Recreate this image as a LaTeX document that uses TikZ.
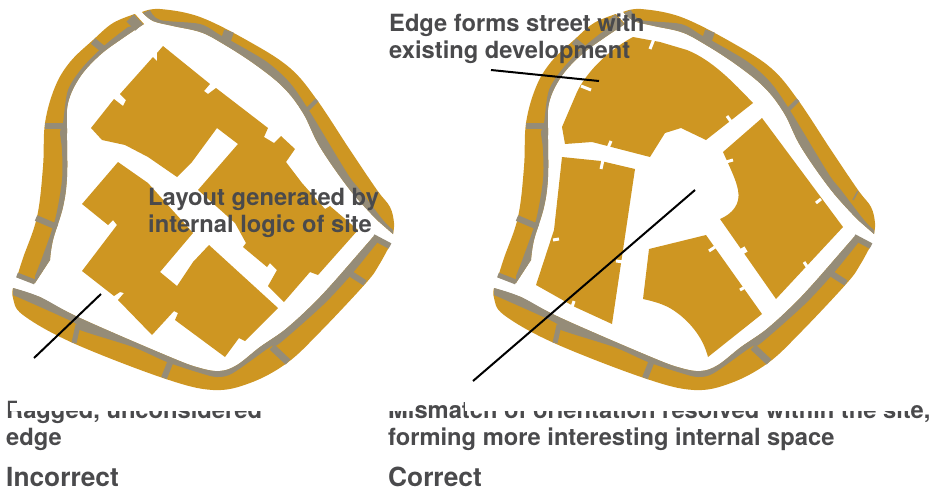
\documentclass[tikz,border=0pt]{standalone}
\usepackage{fontspec}
\setmainfont{TeX Gyre Heros}
\usetikzlibrary{positioning}
\definecolor{plotgold}{HTML}{CE9622}
\definecolor{kerbgrey}{HTML}{958C78}
\definecolor{textgrey}{HTML}{4A4A4C}

\begin{document}
\begin{tikzpicture}[
  x=1pt,
  y=-1pt,
  land/.style={fill=plotgold},
  band/.style={fill=kerbgrey},
  rib/.style={draw=kerbgrey, line width=6pt},
  nick/.style={draw=white, line width=3pt},
  leader/.style={draw=black, line width=2pt},
  note/.style={
    anchor=base west,
    inner sep=0pt,
    align=left,
    text=textgrey,
    font=\fontsize{23.7}{27}\selectfont\bfseries
  },
  heading/.style={
    note,
    font=\fontsize{26.3}{30}\selectfont\bfseries
  },
  cover/.style={fill=white},
  sitering/.pic={
    % outer gold strips
    \fill[land] plot[smooth, tension=0.6] coordinates {(142,12) (160,9) (200,17) (250,42) (290,68) (317,100) (350,150) (377,190) (390,207) (394,223) (393,234)}
      -- plot[smooth, tension=0.6] coordinates {(377,220) (350,190) (320,147) (303,113) (283,87) (253,63) (220,42) (200,32) (173,26) (153,21) (143,13)} -- cycle;
    \fill[land] plot[smooth, tension=0.6] coordinates {(135,14) (113,23) (93,40) (70,62) (55,87) (45,123) (43,167) (37,217) (23,258) (17,277)}
      -- (35,283) -- plot[smooth, tension=0.6] coordinates {(50,260) (53,240) (63,207) (67,177) (67,133) (68,103) (80,77) (100,55) (123,38) (144,24)} -- cycle;
    \fill[land] plot[smooth, tension=0.6] coordinates {(13,288) (13,298) (23,315) (73,343) (163,378) (213,390) (250,383) (287,363) (320,332) (366,283) (379,265) (390,245)}
      -- (373,237) -- plot[smooth, tension=0.6] coordinates {(353,260) (320,297) (287,328) (260,347) (237,365) (220,371) (200,368) (170,357) (80,318) (40,297)} -- cycle;
    % grey kerbs
    \fill[band] plot[smooth, tension=0.5] coordinates {(150,10) (160,20) (200,24) (220,35) (235,43) (267,62) (290,83) (310,112) (347,173) (360,190) (383,220) (393,230)}
      -- (393,234) -- plot[smooth, tension=0.6] coordinates {(377,220) (350,190) (320,147) (303,113) (283,87) (253,63) (220,42) (200,32) (173,26) (153,21) (143,13)} -- cycle;
    \fill[band] plot[smooth, tension=0.5] coordinates {(128,27) (105,45) (83,67) (68,90) (63,123) (60,132) (62,150) (62,180) (55,220) (42,258) (35,276)}
      -- (35,283) -- plot[smooth, tension=0.6] coordinates {(50,260) (53,240) (63,207) (67,177) (67,133) (68,103) (80,77) (100,55) (123,38) (144,24)} -- cycle;
    \fill[band] plot[smooth, tension=0.5] coordinates {(13,295) (73,322) (80,330) (133,347) (167,362) (200,373) (217,377) (233,373) (270,347) (280,343) (323,305) (351,275) (377,243)}
      -- (373,237) -- plot[smooth, tension=0.6] coordinates {(353,260) (320,297) (287,328) (260,347) (237,365) (220,371) (200,368) (170,357) (80,318) (40,297) (13,288)} -- cycle;
    % cross ribs
    \draw[rib, line width=10pt] (229,31) -- (225,43);
    \draw[rib, line width=4pt] (317,100) -- (305,112);
    \draw[rib, line width=1.5pt] (377,191) -- (372,200);
    \draw[rib, line width=10pt] (130,18) -- (139,27);
    \draw[rib, line width=7pt] (93,41) -- (103,49);
    \draw[rib] (45,126) -- (64,126);
    \draw[rib] (36,218) -- (57,227);
    \draw[rib, line width=5pt] (17,275) -- (35,282);
    \draw[rib, line width=5pt] (78,325) -- (74,343);
    \draw[rib] (170,363) -- (164,378);
    \draw[rib, line width=7pt] (272,347) -- (288,362);
    \draw[rib] (351,274) -- (365,283);
    \draw[rib] (373,237) -- (390,246);
  }
]

\useasboundingbox (0,0) rectangle (933,491);

% ------------------------------------------------------------
% Site edges
% ------------------------------------------------------------

\pic at (0,0) {sitering};
\pic at (481,0) {sitering};

% ------------------------------------------------------------
% Left layout
% ------------------------------------------------------------

\fill[land] (163,46) -- (210,84) -- (204,91) -- (208,94) -- (216,88) -- (268,128) -- (264,137) -- (274,143) -- (281,136) -- (295,149)
  -- (286,162) -- (302,183) -- (325,209) -- (330,206) -- (358,230) -- (318,275) -- (310,272) -- (284,302) -- (268,286) -- (277,270)
  -- (270,263) -- (267,267) -- (243,247) -- (246,243) -- (235,223) -- (198,190) -- (238,144) -- (217,128) -- (192,162) -- (177,177)
  -- (148,157) -- (125,145) -- (102,140) -- (91,128) -- (114,99) -- (123,106) -- (126,100) -- (120,94) -- (153,57) -- (157,61) -- (157,53) -- cycle;

\fill[land] (118,162) -- (148,183) -- (193,233) -- (160,272) -- (177,286) -- (193,262) -- (209,245) -- (278,308) -- (245,341) -- (239,338)
  -- (225,357) -- (175,320) -- (178,313) -- (174,311) -- (152,335) -- (118,300) -- (124,293) -- (120,292) -- (114,296) -- (82,271)
  -- (117,225) -- (113,220) -- (108,225) -- (82,204) -- cycle;

% ------------------------------------------------------------
% Right layout
% ------------------------------------------------------------

\fill[land] (633,37) -- (660,42) -- (687,50) .. controls (712,60) and (733,82) .. (753,103) -- (706,140) -- (681,128) -- (665,133) -- (650,157) -- (592,142) -- (565,144)
  -- (562,127) -- (577,92) .. controls (585,75) and (605,52) .. (633,37) -- cycle;
\fill[land] (562,157) -- (601,161) -- (635,169) -- (612,324) -- (575,307) -- (536,285) -- (554,230) -- cycle;
\fill[land] (649,249) -- (706,235) -- (762,314) -- (708,357) .. controls (703,338) and (692,325) .. (680,315) .. controls (672,309) and (666,304) .. (643,299) -- cycle;
\fill[land] (723,152) -- (762,118) -- (843,227) -- (776,299) -- (720,219) .. controls (732,214) and (741,204) .. (738,190) .. controls (736,180) and (732,172) .. (723,152) -- cycle;

\foreach \xa/\ya/\xb/\yb in {
  650/49/654/39, 581/86/591/90, 727/116/732/123, 611/141/608/148,
  601/169/603/160, 553/240/559/239, 616/261/624/262, 574/301/572/307,
  709/251/715/247, 740/290/745/287, 726/162/733/160, 816/203/821/199,
  804/262/808/268} {
  \draw[nick] (\xa,\ya) -- (\xb,\yb);
}
\draw[nick, line width=6pt] (741,252) -- (746,249);

% ------------------------------------------------------------
% Leader lines
% ------------------------------------------------------------

\coordinate (raggedStart) at (101,294);
\coordinate (raggedEnd) at (34,358);
\coordinate (streetStart) at (491,70);
\coordinate (streetEnd) at (599,81);
\coordinate (spaceStart) at (695,190);
\coordinate (spaceEnd) at (473,381);

\draw[leader] (raggedStart) -- (raggedEnd);
\draw[leader] (streetStart) -- (streetEnd);
\draw[leader] (spaceStart) -- (spaceEnd);

% ------------------------------------------------------------
% Text
% ------------------------------------------------------------

\node[note] (street) at (389,58) {Edge forms street with\\existing development};
\node[note] (logic) at (148,232) {Layout generated by\\internal logic of site};
\node[note] (ragged) at (6,445) {Ragged, unconsidered\\edge};
\node[note] (mismatch) at (388,445) {Mismatch of orientation resolved within the site,\\forming more interesting internal space};

\fill[cover] (10,403) rectangle (17,411);
\fill[cover] (17,394) rectangle (275,411);
\fill[cover] (385,394) rectangle (415,411);
\fill[cover] (465,394) rectangle (911,411);

\node[heading] (incorrect) at (6,486) {Incorrect};
\node[heading] (correct) at (388,486) {Correct};

\end{tikzpicture}
\end{document}
